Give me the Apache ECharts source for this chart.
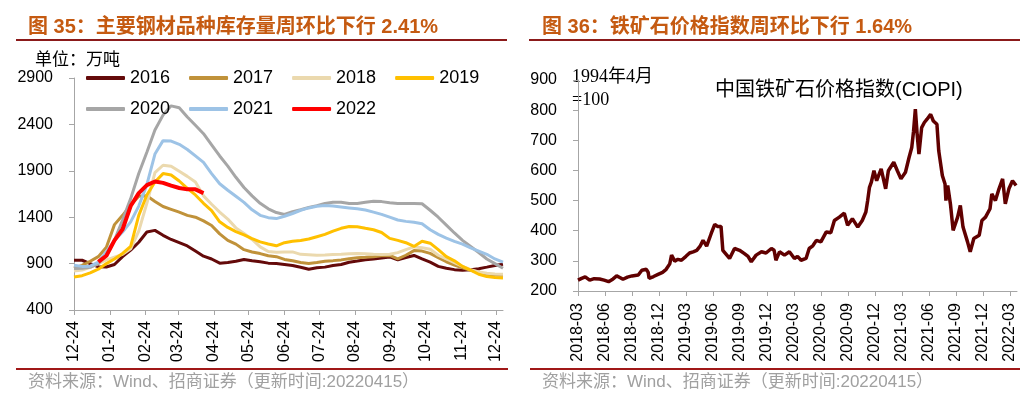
<!DOCTYPE html>
<html>
<head>
<meta charset="utf-8">
<title>钢材库存与铁矿石价格指数</title>
<script src="https://cdn.jsdelivr.net/npm/echarts@6/dist/echarts.min.js"></script>
<style>
  html, body { margin: 0; padding: 0; background: #fff; }
  #chart { width: 1025px; height: 397px; }
</style>
</head>
<body>
<div id="chart"></div>
<script>
// 图35：主要钢材品种库存量（万吨），按周，横轴 = 距 12-24 的天数
var weekDays = Array.from({ length: 54 }, function (_, i) { return i * 7 })

var inv2016 = [936, 936, 900, 866, 864, 890, 975, 1045, 1130, 1240, 1258, 1205, 1160, 1125, 1090, 1035, 980, 950, 905, 912, 925, 945, 930, 920, 905, 900, 890, 880, 860, 840, 855, 862, 880, 890, 915, 928, 942, 950, 960, 972, 940, 965, 988, 950, 915, 870, 850, 835, 828, 835, 845, 862, 880, 893]
var inv2017 = [850, 880, 925, 975, 1075, 1320, 1420, 1530, 1625, 1630, 1570, 1515, 1485, 1455, 1420, 1400, 1360, 1310, 1220, 1150, 1110, 1050, 1025, 1008, 985, 975, 945, 930, 911, 902, 912, 925, 932, 940, 952, 962, 968, 975, 985, 988, 950, 990, 1040, 1035, 1010, 965, 920, 885, 855, 828, 810, 781, 778, 774]
var inv2018 = [820, 830, 860, 900, 940, 970, 1000, 1060, 1250, 1550, 1880, 1960, 1950, 1895, 1840, 1780, 1630, 1540, 1455, 1380, 1285, 1225, 1160, 1080, 1030, 1022, 1026, 1026, 1000, 995, 990, 993, 997, 1000, 1005, 1008, 1005, 1000, 998, 1000, 1018, 1050, 1080, 1070, 1055, 990, 950, 910, 870, 835, 810, 795, 788, 785]
var inv2019 = [756, 770, 800, 840, 900, 950, 1010, 1085, 1420, 1640, 1780, 1870, 1855, 1790, 1710, 1640, 1550, 1470, 1350, 1290, 1245, 1210, 1170, 1134, 1112, 1092, 1125, 1140, 1150, 1165, 1190, 1215, 1250, 1280, 1300, 1298, 1280, 1265, 1235, 1172, 1150, 1125, 1085, 1140, 1120, 1050, 975, 930, 870, 830, 785, 760, 750, 745]
var inv2020 = [846, 850, 860, 900, 990, 1150, 1370, 1600, 1870, 2100, 2340, 2500, 2600, 2580, 2480, 2390, 2300, 2180, 2060, 1950, 1830, 1720, 1630, 1550, 1490, 1450, 1430, 1460, 1480, 1505, 1525, 1548, 1562, 1560, 1548, 1547, 1560, 1572, 1568, 1555, 1547, 1548, 1548, 1545, 1475, 1400, 1315, 1230, 1150, 1085, 1020, 950, 900, 850]
var inv2021 = [882, 870, 872, 915, 1030, 1150, 1241, 1350, 1520, 1750, 2080, 2225, 2220, 2185, 2130, 2060, 1990, 1870, 1760, 1690, 1626, 1560, 1480, 1420, 1395, 1385, 1410, 1440, 1475, 1500, 1518, 1525, 1520, 1510, 1500, 1490, 1478, 1455, 1430, 1400, 1370, 1355, 1345, 1330, 1265, 1215, 1175, 1140, 1110, 1070, 1035, 1000, 950, 915]
var inv2022 = [null, null, null, 918, 985, 1150, 1270, 1520, 1660, 1745, 1785, 1770, 1740, 1715, 1700, 1700, 1660]

var tickDays = [0, 31, 62, 90, 121, 151, 182, 212, 243, 274, 304, 335, 365]
var tickLabels = ['12-24', '01-24', '02-24', '03-24', '04-24', '05-24', '06-24', '07-24', '08-24', '09-24', '10-24', '11-24', '12-24']

// 图36：中国铁矿石价格指数 CIOPI（1994年4月=100），横轴 = 距 2018-03 的月数
var ciopiMonth = [0.0, 0.4, 0.8, 1.3, 1.8, 2.4, 2.9, 3.4, 3.9, 4.3, 4.7, 5.0, 5.5, 6.0, 6.7, 7.1, 7.6, 7.8, 7.9, 8.4, 8.9, 9.4, 9.8, 10.2, 10.4, 10.75, 11.1, 11.5, 12.0, 12.4, 12.8, 13.2, 13.6, 13.9, 14.3, 14.8, 15.2, 15.5, 15.7, 15.9, 16.1, 16.3, 16.85, 17.4, 17.96, 18.5, 18.9, 19.26, 19.8, 20.4, 20.9, 21.5, 21.8, 22.0, 22.4, 22.95, 23.5, 24.06, 24.4, 24.8, 25.35, 25.7, 26.1, 26.5, 27.0, 27.6, 28.1, 28.5, 29.05, 29.6, 29.97, 30.5, 31.1, 31.6, 32.0, 32.2, 32.4, 32.6, 32.9, 33.2, 33.7, 34.2, 34.5, 35.1, 35.5, 35.9, 36.4, 36.8, 37.1, 37.3, 37.5, 37.7, 37.9, 38.2, 38.5, 38.8, 39.2, 39.5, 39.9, 40.1, 40.5, 40.8, 40.9, 41.1, 41.4, 41.7, 42.2, 42.5, 42.8, 43.3, 43.6, 44.0, 44.6, 44.9, 45.3, 45.8, 46.0, 46.4, 46.8, 47.2, 47.5, 47.9, 48.3, 48.7]
var ciopiValue = [236, 242, 247, 236, 241, 240, 236, 231, 240, 250, 244, 239, 246, 250, 253, 269, 272, 262, 242, 248, 255, 262, 272, 290, 319, 299, 305, 302, 315, 326, 330, 335, 350, 368, 349, 390, 421, 414, 420, 414, 335, 335, 308, 341, 335, 324, 315, 297, 319, 330, 326, 341, 335, 302, 330, 319, 330, 308, 315, 302, 308, 341, 350, 368, 363, 396, 393, 434, 445, 458, 418, 440, 412, 434, 462, 500, 544, 560, 599, 566, 605, 539, 599, 627, 599, 572, 594, 643, 676, 730, 803, 720, 654, 742, 759, 770, 786, 764, 753, 665, 583, 555, 500, 550, 489, 401, 445, 484, 412, 363, 330, 374, 385, 434, 445, 473, 522, 500, 539, 572, 489, 539, 566, 550]
var quarterTicks = [0, 3, 6, 9, 12, 15, 18, 21, 24, 27, 30, 33, 36, 39, 42, 45, 48]

var fontSans = '"Liberation Sans", Arial, "Noto Sans CJK SC"'
var fontSerif = '"Liberation Serif", "Noto Sans CJK SC"'
var axisGrey = '#A6A6A6'

function weekly(vals) {
  return vals.map(function (v, i) { return [weekDays[i], v] }).filter(function (p) { return p[1] != null })
}

function monthLabel(v) {
  var m = 2 + v
  var mm = (m % 12) + 1
  return (2018 + Math.floor(m / 12)) + '-' + (mm < 10 ? '0' + mm : mm)
}

function invSeries(name, vals, color, width) {
  return {
    name: name,
    type: 'line',
    xAxisIndex: 0,
    yAxisIndex: 0,
    data: weekly(vals),
    symbol: 'none',
    color: color,
    lineStyle: { width: width || 3 },
    animation: false,
  }
}

var legendText = { color: '#000', fontSize: 18, fontFamily: fontSans }
var yLabel = { margin: 21, fontSize: 16, color: '#000', fontFamily: fontSans, formatter: function (v) { return String(v) } }

var chart = echarts.init(document.getElementById('chart'))
var option = {
  backgroundColor: '#fff',
  animation: false,
  grid: [
    { left: 74, top: 78, width: 429, height: 232 },
    { left: 578, top: 80, width: 439, height: 211 },
  ],
  legend: [
    {
      data: ['2016', '2017', '2018', '2019'],
      left: 86, top: 69, padding: 0,
      icon: 'roundRect', itemWidth: 39, itemHeight: 4, itemGap: 19,
      textStyle: legendText,
    },
    {
      data: ['2020', '2021', '2022'],
      left: 86, top: 100, padding: 0,
      icon: 'roundRect', itemWidth: 39, itemHeight: 4, itemGap: 19,
      textStyle: legendText,
    },
  ],
  xAxis: [
    {
      type: 'value',
      gridIndex: 0,
      min: 0,
      max: 371,
      splitLine: { show: false },
      axisLine: { onZero: false, lineStyle: { color: axisGrey } },
      axisTick: { length: 5, customValues: tickDays, lineStyle: { color: axisGrey } },
      axisLabel: {
        customValues: tickDays,
        rotate: 90,
        margin: 11,
        fontSize: 16,
        color: '#000',
        fontFamily: fontSans,
        formatter: function (v) { return tickLabels[tickDays.indexOf(v)] },
      },
    },
    {
      type: 'value',
      gridIndex: 1,
      min: 0,
      max: 48.8,
      splitLine: { show: false },
      axisLine: { onZero: false, lineStyle: { color: axisGrey } },
      axisTick: { length: 5, customValues: quarterTicks, lineStyle: { color: axisGrey } },
      axisLabel: {
        customValues: quarterTicks,
        rotate: 90,
        margin: 12,
        fontSize: 16,
        color: '#000',
        fontFamily: fontSans,
        formatter: monthLabel,
      },
    },
  ],
  yAxis: [
    {
      type: 'value',
      gridIndex: 0,
      min: 400,
      max: 2900,
      interval: 500,
      splitLine: { show: false },
      axisLine: { show: true, lineStyle: { color: axisGrey } },
      axisTick: { show: true, length: 5, lineStyle: { color: axisGrey } },
      axisLabel: yLabel,
    },
    {
      type: 'value',
      gridIndex: 1,
      min: 200,
      max: 900,
      interval: 100,
      splitLine: { show: false },
      axisLine: { show: true, lineStyle: { color: axisGrey } },
      axisTick: { show: true, length: 5, lineStyle: { color: axisGrey } },
      axisLabel: yLabel,
    },
  ],
  series: [
    invSeries('2016', inv2016, '#640A0A'),
    invSeries('2017', inv2017, '#C0923A'),
    invSeries('2018', inv2018, '#EBD9AE'),
    invSeries('2019', inv2019, '#FFC000'),
    invSeries('2020', inv2020, '#A6A6A6'),
    invSeries('2021', inv2021, '#9DC3E6'),
    invSeries('2022', inv2022, '#FF0000', 4),
    {
      name: 'CIOPI',
      type: 'line',
      xAxisIndex: 1,
      yAxisIndex: 1,
      data: ciopiMonth.map(function (m, i) { return [m, ciopiValue[i]] }),
      symbol: 'none',
      color: '#600000',
      lineStyle: { width: 3.5 },
      animation: false,
    },
  ],
  graphic: [
    { type: 'text', x: 28, y: 27, style: { text: '图 35：主要钢材品种库存量周环比下行 2.41%', fill: '#C55A11', font: 'bold 20px ' + fontSans, verticalAlign: 'middle' } },
    { type: 'text', x: 542, y: 27, style: { text: '图 36：铁矿石价格指数周环比下行 1.64%', fill: '#C55A11', font: 'bold 20px ' + fontSans, verticalAlign: 'middle' } },
    { type: 'line', shape: { x1: 16, y1: 40, x2: 507, y2: 40 }, style: { stroke: '#8B1A1A', lineWidth: 2 } },
    { type: 'line', shape: { x1: 529, y1: 40, x2: 1020, y2: 40 }, style: { stroke: '#8B1A1A', lineWidth: 2 } },
    { type: 'line', shape: { x1: 16, y1: 369, x2: 508, y2: 369 }, style: { stroke: '#A01818', lineWidth: 2 } },
    { type: 'line', shape: { x1: 530, y1: 369, x2: 1020, y2: 369 }, style: { stroke: '#A01818', lineWidth: 2 } },
    { type: 'text', x: 35, y: 61, style: { text: '单位：万吨', fill: '#000', font: '17px ' + fontSerif, verticalAlign: 'middle' } },
    { type: 'text', x: 572, y: 77, style: { text: '1994年4月', fill: '#000', font: '18px ' + fontSerif, verticalAlign: 'middle' } },
    { type: 'text', x: 572, y: 100, style: { text: '=100', fill: '#000', font: '18px ' + fontSerif, verticalAlign: 'middle' } },
    { type: 'text', x: 715, y: 90, style: { text: '中国铁矿石价格指数(CIOPI)', fill: '#000', font: '20px ' + fontSans, verticalAlign: 'middle' } },
    { type: 'text', x: 28, y: 382, style: { text: '资料来源：Wind、招商证券（更新时间:20220415）', fill: '#A0A0A0', font: '17px ' + fontSans, verticalAlign: 'middle' } },
    { type: 'text', x: 542, y: 382, style: { text: '资料来源：Wind、招商证券（更新时间:20220415）', fill: '#A0A0A0', font: '17px ' + fontSans, verticalAlign: 'middle' } },
  ],
}
chart.setOption(option)
</script>
</body>
</html>
